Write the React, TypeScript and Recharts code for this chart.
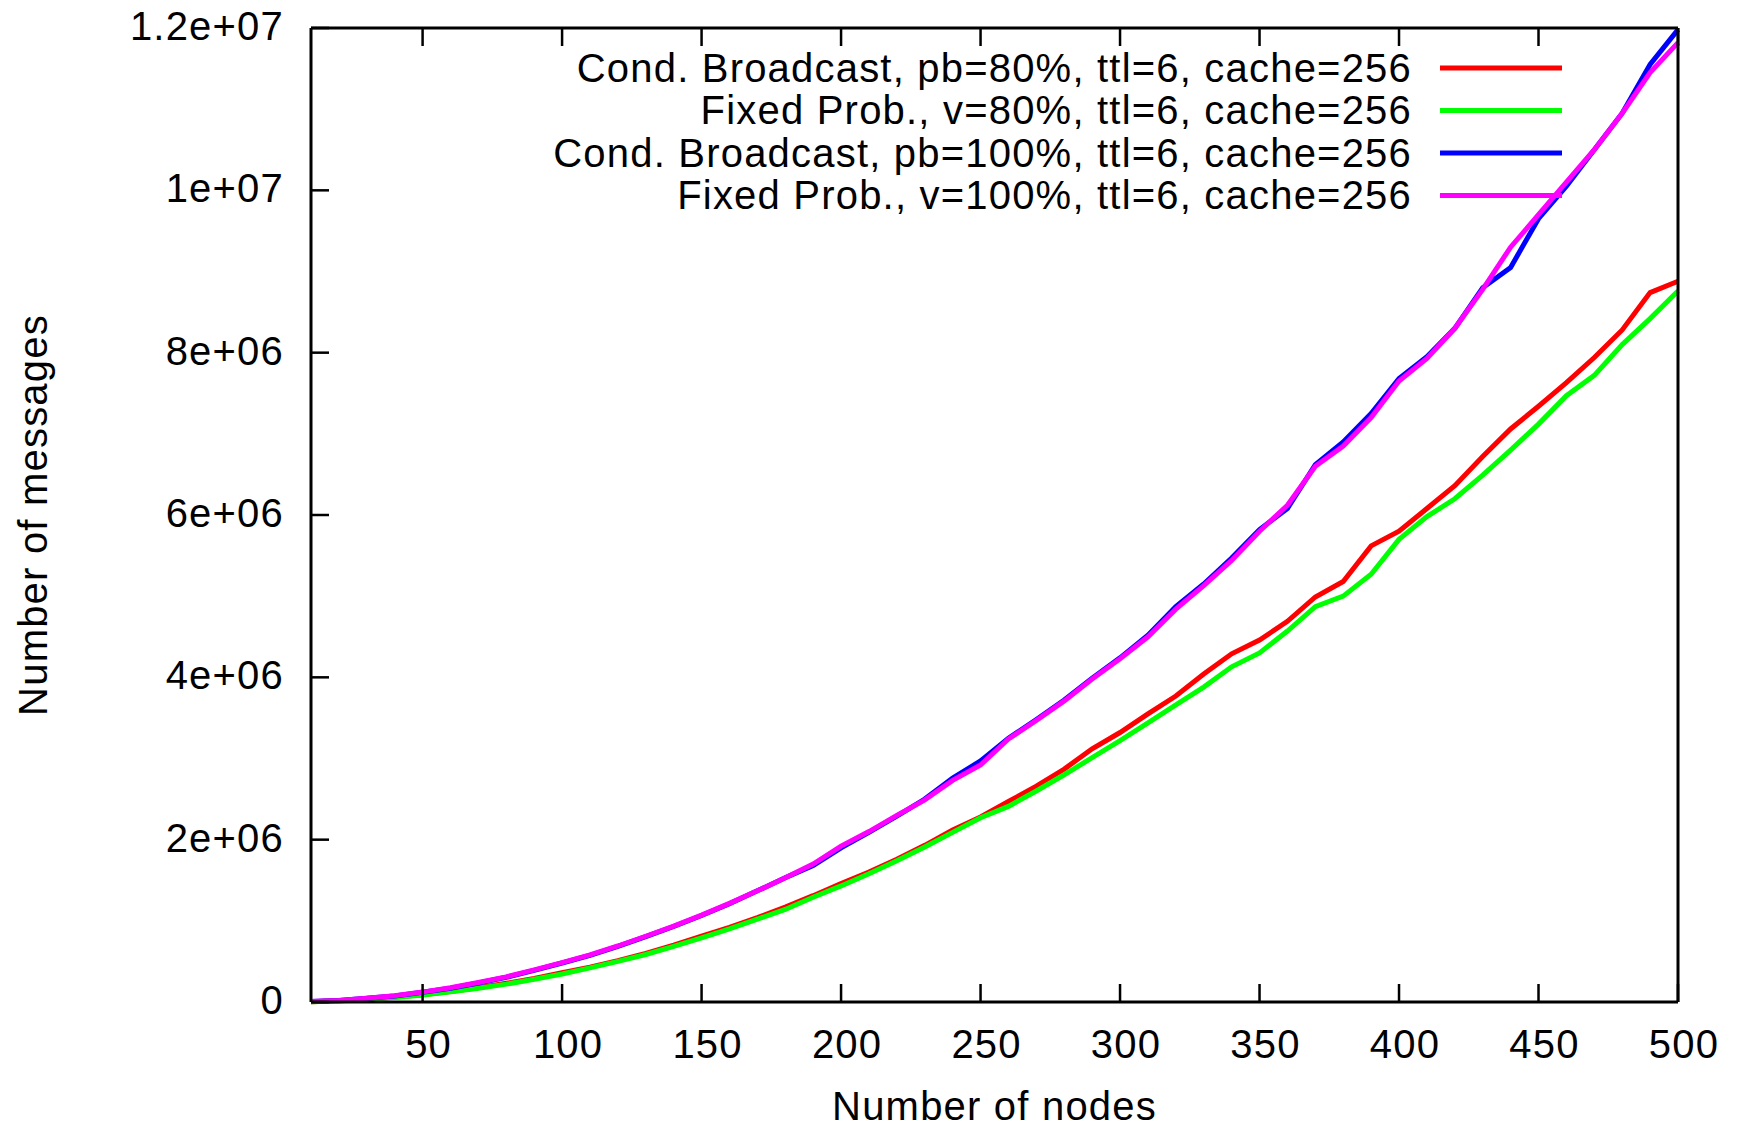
import { LineChart, Line, XAxis, YAxis, Legend } from 'recharts';

// number of nodes in the simulation
const nodes = [
  10, 20, 30, 40, 50, 60, 70, 80, 90, 100,
  110, 120, 130, 140, 150, 160, 170, 180, 190, 200,
  210, 220, 230, 240, 250, 260, 270, 280, 290, 300,
  310, 320, 330, 340, 350, 360, 370, 380, 390, 400,
  410, 420, 430, 440, 450, 460, 470, 480, 490, 500,
];

// messages, in millions
const condBroadcast80 = [
  0.004, 0.015, 0.035, 0.06, 0.09, 0.13, 0.175, 0.23, 0.29, 0.36,
  0.43, 0.51, 0.6, 0.7, 0.81, 0.92, 1.04, 1.17, 1.31, 1.46,
  1.6, 1.76, 1.93, 2.12, 2.28, 2.47, 2.66, 2.87, 3.12, 3.32,
  3.55, 3.77, 4.04, 4.29, 4.46, 4.69, 4.99, 5.18, 5.62, 5.8,
  6.08, 6.36, 6.72, 7.06, 7.34, 7.63, 7.94, 8.28, 8.74, 8.88,
];
const fixedProb80 = [
  0.003, 0.013, 0.03, 0.055, 0.085, 0.125, 0.17, 0.22, 0.28, 0.345,
  0.42, 0.5, 0.585, 0.685, 0.79, 0.9, 1.02, 1.14, 1.29, 1.43,
  1.58, 1.74, 1.91, 2.09, 2.27, 2.41, 2.6, 2.8, 3.01, 3.22,
  3.44, 3.66, 3.88, 4.13, 4.3, 4.57, 4.87, 5.0, 5.27, 5.7,
  5.98, 6.2, 6.49, 6.8, 7.12, 7.47, 7.72, 8.1, 8.42, 8.76,
];
const condBroadcast100 = [
  0.005, 0.02, 0.045, 0.075, 0.12, 0.17, 0.235, 0.305, 0.39, 0.48,
  0.575, 0.685, 0.805, 0.93, 1.065, 1.21, 1.37, 1.53, 1.68, 1.9,
  2.09, 2.29, 2.5, 2.76, 2.97, 3.25, 3.48, 3.72, 3.99, 4.24,
  4.52, 4.87, 5.15, 5.47, 5.82, 6.08, 6.62, 6.9, 7.25, 7.68,
  7.95, 8.3, 8.8, 9.05, 9.65, 10.05, 10.5, 10.95, 11.55, 11.98,
];
const fixedProb100 = [
  0.005, 0.02, 0.045, 0.078, 0.122, 0.175, 0.24, 0.31, 0.395, 0.485,
  0.58, 0.69, 0.81, 0.935, 1.07, 1.215, 1.37, 1.53, 1.7, 1.92,
  2.1, 2.3, 2.49, 2.73, 2.92, 3.24, 3.47, 3.71, 3.98, 4.23,
  4.5, 4.84, 5.13, 5.44, 5.8, 6.12, 6.6, 6.85, 7.2, 7.65,
  7.93, 8.3, 8.78, 9.3, 9.7, 10.1, 10.5, 10.95, 11.45, 11.82,
];

const seriesNames = [
  'Cond. Broadcast, pb=80%, ttl=6, cache=256',
  'Fixed Prob., v=80%, ttl=6, cache=256',
  'Cond. Broadcast, pb=100%, ttl=6, cache=256',
  'Fixed Prob., v=100%, ttl=6, cache=256',
];
const seriesKeys = ['cb80', 'fp80', 'cb100', 'fp100'];
const seriesColors = ['#ff0000', '#00ff00', '#0000ff', '#ff00ff'];

const xTicks = [50, 100, 150, 200, 250, 300, 350, 400, 450, 500];
const yTicks = [0, 2e6, 4e6, 6e6, 8e6, 1e7, 1.2e7];
const yTickLabels = ['0', '2e+06', '4e+06', '6e+06', '8e+06', '1e+07', '1.2e+07'];

const FONT = '"Liberation Sans", Arial, Helvetica, sans-serif';
const FS = 40;
const LS = 1.2; // gnuplot's text runs a bit wider than Arial
const TICK_LEN = 18;

const data = nodes.map((n, i) => ({
  n,
  cb80: condBroadcast80[i] * 1e6,
  fp80: fixedProb80[i] * 1e6,
  cb100: condBroadcast100[i] * 1e6,
  fp100: fixedProb100[i] * 1e6,
}));

const BottomTick = ({ x, y, payload }: any) => (
  <g>
    <line x1={x} y1={y} x2={x} y2={y - TICK_LEN} stroke="#000" strokeWidth={2.5} />
    <text x={x + 6} y={y + 56} textAnchor="middle" fontSize={FS} letterSpacing={LS} fontFamily={FONT} fill="#000">
      {payload.value}
    </text>
  </g>
);

const TopTick = ({ x, y }: any) => (
  <line x1={x} y1={y} x2={x} y2={y + TICK_LEN} stroke="#000" strokeWidth={2.5} />
);

const LeftTick = ({ x, y, payload }: any) => {
  const idx = yTicks.indexOf(payload.value);
  return (
    <g>
      <line x1={x} y1={y} x2={x + TICK_LEN} y2={y} stroke="#000" strokeWidth={2.5} />
      <text x={x - 27} y={y + 12} textAnchor="end" fontSize={FS} letterSpacing={LS} fontFamily={FONT} fill="#000">
        {idx >= 0 ? yTickLabels[idx] : payload.value}
      </text>
    </g>
  );
};

const RightTick = ({ x, y }: any) => (
  <line x1={x} y1={y} x2={x - TICK_LEN} y2={y} stroke="#000" strokeWidth={2.5} />
);

const renderLegend = (props: any) => {
  const payload = [...(props.payload || [])].sort(
    (a: any, b: any) => seriesNames.indexOf(a.value) - seriesNames.indexOf(b.value)
  );
  return (
    <svg width={1737} height={230} style={{ display: 'block' }}>
      {payload.map((entry: any, i: number) => {
        const ly = 68 + i * 42.5;
        return (
          <g key={entry.value}>
            <text x={1412} y={ly + 13.5} textAnchor="end" fontSize={FS} letterSpacing={LS} fontFamily={FONT} fill="#000">
              {entry.value}
            </text>
            <line x1={1440} y1={ly} x2={1562} y2={ly} stroke={entry.color} strokeWidth={5} />
          </g>
        );
      })}
    </svg>
  );
};

export default function App() {
  return (
    <div style={{ position: 'absolute', left: 0, top: 0, width: 1737, height: 1129, background: '#fff' }}>
      <LineChart
        width={1737}
        height={1129}
        data={data}
        margin={{ top: 0, right: 0, bottom: 0, left: 0 }}
      >
        <XAxis
          dataKey="n"
          type="number"
          domain={[10, 500]}
          ticks={xTicks}
          interval={0}
          height={127}
          tickSize={0}
          tickMargin={0}
          axisLine={{ stroke: '#000', strokeWidth: 3 }}
          tick={<BottomTick />}
        />
        <XAxis
          xAxisId="top"
          orientation="top"
          dataKey="n"
          type="number"
          domain={[10, 500]}
          ticks={xTicks}
          interval={0}
          height={28}
          tickSize={0}
          tickMargin={0}
          axisLine={{ stroke: '#000', strokeWidth: 3 }}
          tick={<TopTick />}
        />
        <YAxis
          type="number"
          domain={[0, 1.2e7]}
          ticks={yTicks}
          interval={0}
          width={311}
          tickSize={0}
          tickMargin={0}
          axisLine={{ stroke: '#000', strokeWidth: 3 }}
          tick={<LeftTick />}
        />
        <YAxis
          yAxisId="right"
          orientation="right"
          type="number"
          domain={[0, 1.2e7]}
          ticks={yTicks}
          interval={0}
          width={59}
          tickSize={0}
          tickMargin={0}
          axisLine={{ stroke: '#000', strokeWidth: 3 }}
          tick={<RightTick />}
        />
        {seriesKeys.map((key, i) => (
          <Line
            key={key}
            type="linear"
            dataKey={key}
            name={seriesNames[i]}
            stroke={seriesColors[i]}
            strokeWidth={5}
            dot={false}
            isAnimationActive={false}
          />
        ))}
        <Legend
          layout="vertical"
          align="center"
          verticalAlign="middle"
          content={renderLegend}
          wrapperStyle={{ position: 'absolute', left: 0, top: 0, width: 1737, height: 230, pointerEvents: 'none' }}
        />
        {/* axis titles */}
        <text x={994.5} y={1120} textAnchor="middle" fontSize={FS} letterSpacing={LS} fontFamily={FONT} fill="#000">
          Number of nodes
        </text>
        <text
          x={46.5}
          y={515}
          transform="rotate(-90, 46.5, 515)"
          textAnchor="middle"
          fontSize={FS}
          letterSpacing={LS}
          fontFamily={FONT}
          fill="#000"
        >
          Number of messages
        </text>
      </LineChart>
    </div>
  );
}
